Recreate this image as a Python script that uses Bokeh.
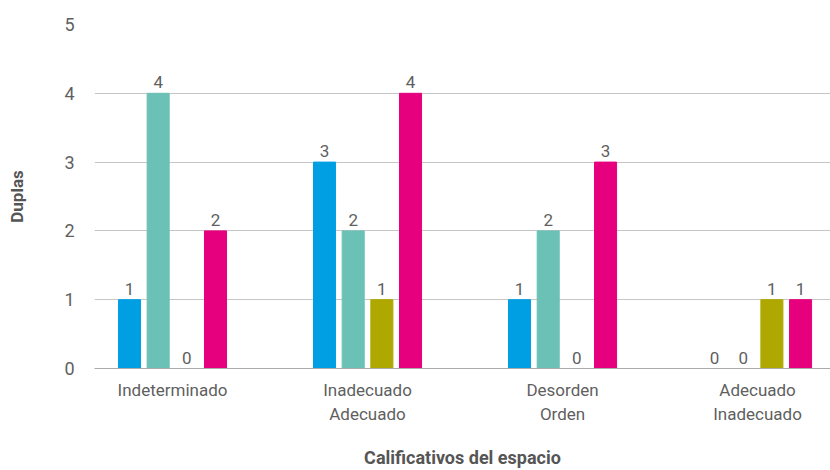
from bokeh.plotting import figure
from bokeh.models import Range1d, FixedTicker, ColumnDataSource
from bokeh.embed import file_html
from bokeh.resources import INLINE
from bokeh.core.properties import value

categories = ["Indeterminado", "Inadecuado\nAdecuado", "Desorden\nOrden", "Adecuado\nInadecuado"]
series_names = ["S1", "S2", "S3", "S4"]
series_values = [
    [1, 3, 1, 0],
    [4, 2, 2, 0],
    [0, 1, 0, 1],
    [2, 4, 3, 1],
]
colors = ["#009FE3", "#6BC1B6", "#AEA800", "#E6007E"]
y_ticks = [0, 1, 2, 3, 4, 5]

FONT = "Roboto"
GRAY = "#5F5F5F"

p = figure(width=830, height=470, output_backend="svg", toolbar_location=None,
           x_range=Range1d(0.1, 3.874), y_range=Range1d(0, 5),
           min_border_left=94, min_border_right=0, min_border_top=24, min_border_bottom=100)

group_step = 0.147
bar_w = 0.113
for i, (vals, col) in enumerate(zip(series_values, colors)):
    xs = [k + 0.5 + (i - 1.5) * group_step for k in range(len(categories))]
    src = ColumnDataSource(dict(x=xs, top=vals, lab=[str(v) for v in vals]))
    p.vbar(x="x", top="top", bottom=0, width=bar_w, color=col, source=src)
    p.text(x="x", y="top", text="lab", source=src, text_align="center", text_baseline="bottom",
           y_offset=-5, text_font=value(FONT), text_font_size="17px", text_color=GRAY)

p.outline_line_color = None
p.xgrid.grid_line_color = None
p.ygrid.grid_line_color = "#C6C6C6"
p.ygrid.grid_line_width = 1

p.yaxis.ticker = FixedTicker(ticks=y_ticks)
p.yaxis.axis_line_color = None
p.yaxis.major_tick_line_color = None
p.yaxis.minor_tick_line_color = None
p.yaxis.major_tick_out = 0
p.yaxis.major_tick_in = 0
p.yaxis.major_label_text_font = FONT
p.yaxis.major_label_text_font_size = "18px"
p.yaxis.major_label_text_color = GRAY
p.yaxis.major_label_standoff = 20
p.yaxis.axis_label = "Duplas"
p.yaxis.axis_label_text_font = FONT
p.yaxis.axis_label_text_font_style = "bold"
p.yaxis.axis_label_text_font_size = "17px"
p.yaxis.axis_label_text_color = "#555555"
p.yaxis.axis_label_standoff = 34

p.xaxis.ticker = FixedTicker(ticks=[k + 0.5 for k in range(len(categories))])
p.xaxis.major_label_overrides = {k + 0.5: c for k, c in enumerate(categories)}
p.xaxis.axis_line_color = "#ABABAB"
p.xaxis.major_tick_line_color = None
p.xaxis.minor_tick_line_color = None
p.xaxis.major_tick_out = 0
p.xaxis.major_tick_in = 0
p.xaxis.minor_tick_out = 0
p.xaxis.major_label_text_font = FONT
p.xaxis.major_label_text_font_size = "17px"
p.xaxis.major_label_text_color = GRAY
p.xaxis.major_label_standoff = 11
p.xaxis.axis_label = "Calificativos del espacio"
p.xaxis.axis_label_text_font = FONT
p.xaxis.axis_label_text_font_style = "bold"
p.xaxis.axis_label_text_font_size = "18px"
p.xaxis.axis_label_text_color = "#555555"
p.xaxis.axis_label_standoff = 20

open("out.html", "w").write(file_html(p, INLINE))
